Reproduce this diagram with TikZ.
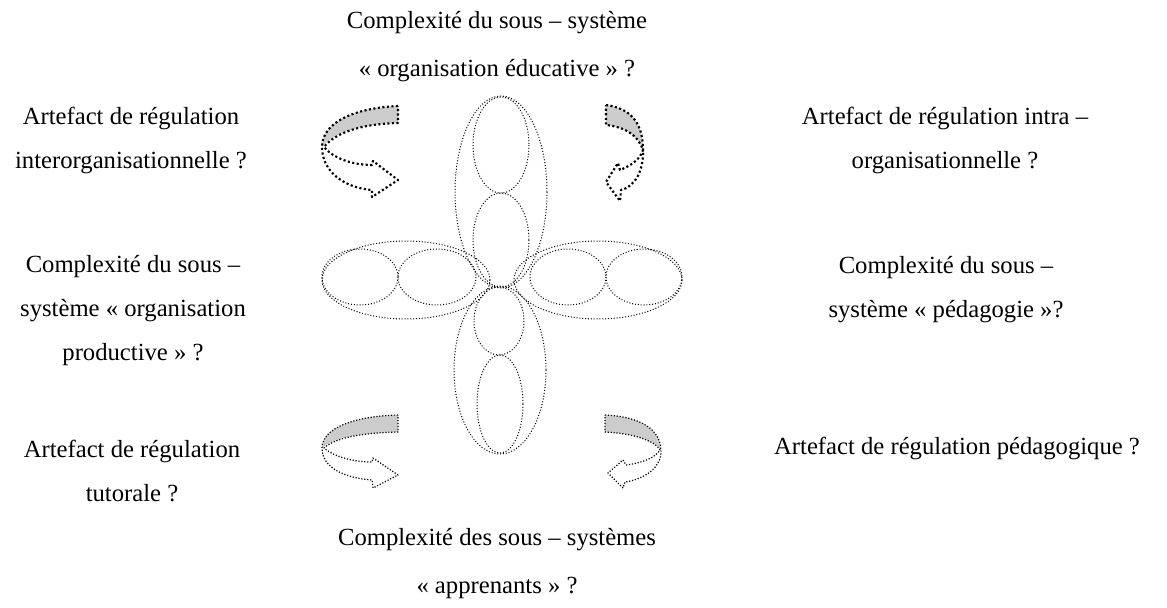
\documentclass[tikz,border=0pt]{standalone}
\usepackage{fontspec}
\setmainfont{Liberation Serif}
\begin{document}
\begin{tikzpicture}[x=0.75pt,y=-0.75pt,
  ell/.style={line width=0.75pt,dash pattern=on 0.75pt off 1.4pt},
  bigarrow/.style={line width=1.6pt,dash pattern=on 1.6pt off 1.8pt,line join=round},
  smallarrow/.style={line width=0.9pt,dash pattern=on 0.9pt off 1.3pt,line join=round},
  back/.style={fill=black!20},
  lbl/.style={align=center,font=\fontsize{18.5}{33}\selectfont,inner sep=0pt}]
\useasboundingbox (0,0) rectangle (1167,607);

% vertical chain of ellipses
\draw[ell] (501,145) ellipse [x radius=28, y radius=48];
\draw[ell] (501,240) ellipse [x radius=28, y radius=47];
\draw[ell] (499,321) ellipse [x radius=25, y radius=34];
\draw[ell] (500,404) ellipse [x radius=23, y radius=49];
\draw[ell] (501,192) ellipse [x radius=46, y radius=96];
\draw[ell] (500,370) ellipse [x radius=46, y radius=84];

% left pair
\draw[ell] (360,277) ellipse [x radius=38, y radius=28];
\draw[ell] (437,277) ellipse [x radius=39, y radius=28];
\draw[ell] (406,280) ellipse [x radius=84, y radius=39];

% right pair
\draw[ell] (568,277) ellipse [x radius=38, y radius=28];
\draw[ell] (644,277) ellipse [x radius=38, y radius=28];
\draw[ell] (598,280) ellipse [x radius=84, y radius=39];

% curved arrow, top left
\fill[back] (398,106) .. controls (355,108) and (322,122) .. (322,147)
  .. controls (333,133) and (360,124) .. (398,123) -- cycle;
\draw[bigarrow] (398,106) .. controls (355,108) and (322,122) .. (322,147)
  .. controls (322,172) and (345,188) .. (372,190) -- (372,197) -- (398,180)
  -- (373,161) -- (372,165) .. controls (352,165) and (333,158) .. (324,147)
  .. controls (335,133) and (360,124) .. (398,123) -- cycle;

% curved arrow, top right
\fill[back] (606,105) .. controls (628,108) and (643,120) .. (643,150)
  .. controls (638,135) and (625,127) .. (606,125) -- cycle;
\draw[bigarrow] (606,105) .. controls (628,108) and (643,120) .. (643,150)
  .. controls (644,170) and (635,187) .. (621,190) -- (620,201) -- (606,182)
  -- (618,163) -- (620,170) .. controls (630,166) and (640,160) .. (643,150)
  .. controls (638,135) and (625,127) .. (606,125) -- cycle;

% curved arrow, bottom left
\fill[back] (398,415) .. controls (355,416) and (322,428) .. (322,448)
  .. controls (333,438) and (360,433) .. (398,432) -- cycle;
\draw[smallarrow] (398,415) .. controls (355,416) and (322,428) .. (322,448)
  .. controls (322,468) and (345,478) .. (372,480) -- (373,488) -- (398,475)
  -- (373,458) -- (372,462) .. controls (352,462) and (333,456) .. (324,448)
  .. controls (335,438) and (360,433) .. (398,432) -- cycle;

% curved arrow, bottom right
\fill[back] (605,415) .. controls (630,416) and (660,424) .. (661,450)
  .. controls (655,440) and (630,433) .. (605,432) -- cycle;
\draw[smallarrow] (605,415) .. controls (630,416) and (660,424) .. (661,450)
  .. controls (662,470) and (640,480) .. (625,482) -- (623,488) -- (608,473)
  -- (623,460) -- (626,465) .. controls (642,463) and (655,458) .. (660,450)
  .. controls (655,440) and (630,433) .. (605,432) -- cycle;

% labels
\node[lbl] (top) at (497,47) {Complexité du sous – système\\[3pt]« organisation éducative » ?};
\node[lbl] (tl) at (131,140) {Artefact de régulation\\interorganisationnelle ?};
\node[lbl] (tr) at (945,140) {Artefact de régulation intra –\\organisationnelle ?};
\node[lbl] (ml) at (133,311) {Complexité du sous –\\système « organisation\\productive » ?};
\node[lbl] (mr) at (946,290) {Complexité du sous –\\système « pédagogie »?};
\node[lbl] (bl) at (132,471) {Artefact de régulation\\tutorale ?};
\node[lbl] (br) at (957,448) {Artefact de régulation pédagogique ?};
\node[lbl] (bot) at (497,564) {Complexité des sous – systèmes\\[3pt]« apprenants » ?};
\end{tikzpicture}
\end{document}
